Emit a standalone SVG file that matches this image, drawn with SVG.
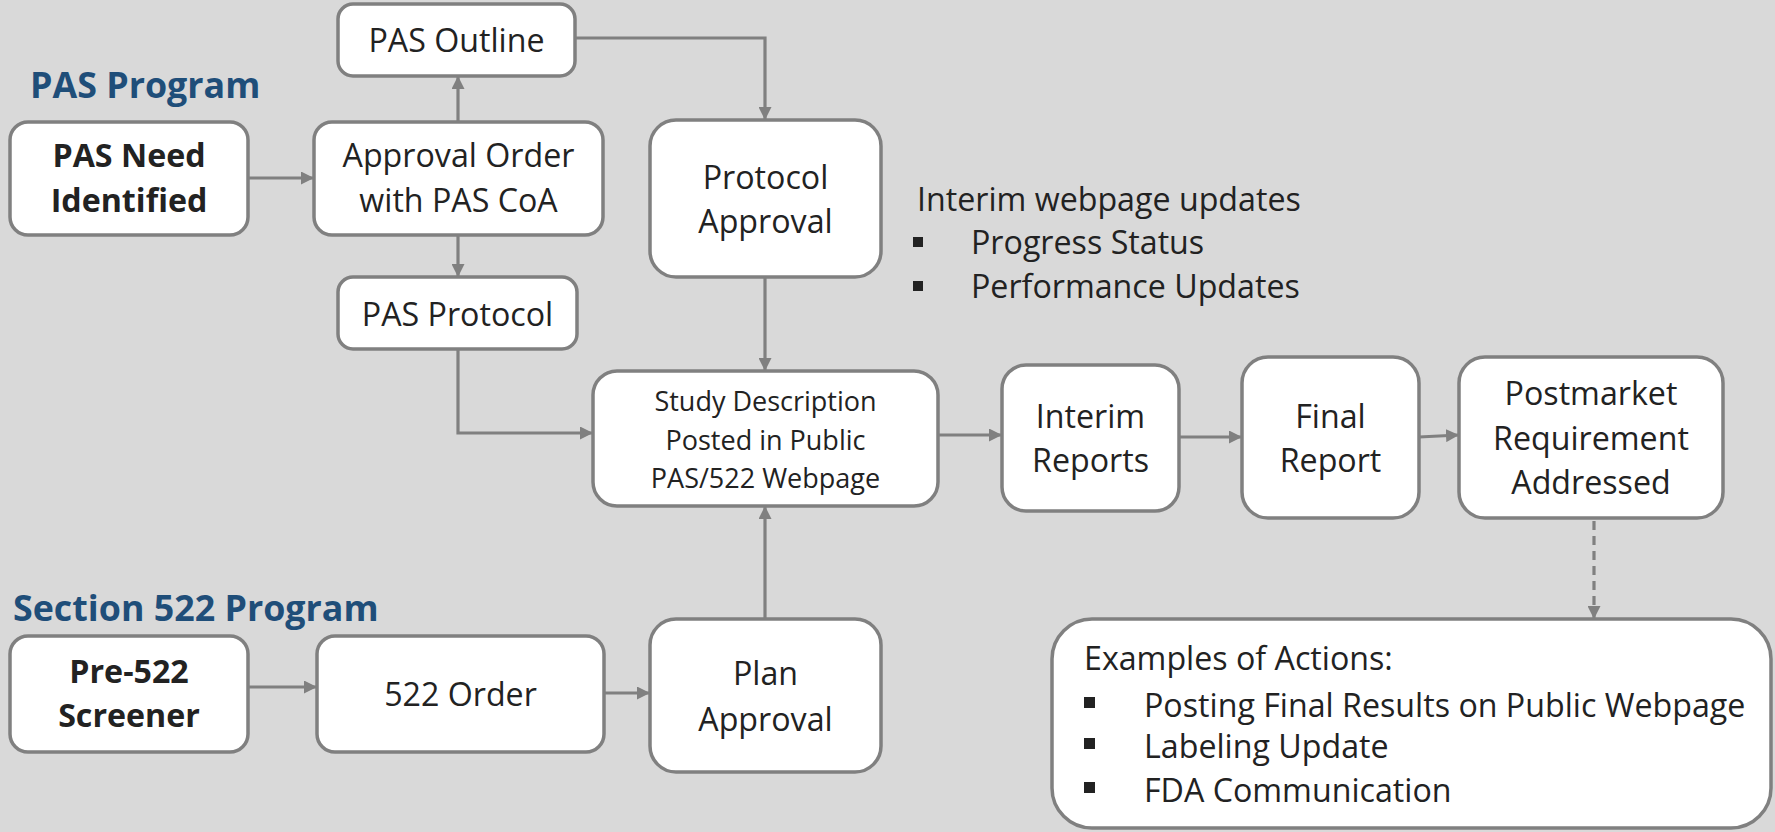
<svg xmlns="http://www.w3.org/2000/svg" width="1775" height="832" viewBox="0 0 1775 832">
<defs>
<marker id="ah" viewBox="0 0 10 10" markerUnits="userSpaceOnUse" markerWidth="13" markerHeight="13" refX="10" refY="5" orient="auto"><path d="M0,0 L10,5 L0,10 z" fill="#808080"/></marker>
<style>
.box{fill:#fff;stroke:#808080;stroke-width:3.5}
.t{font-family:"Open Sans","Noto Sans",sans-serif;font-size:32.2px;fill:#222;text-anchor:middle}
.b{font-weight:bold}
.s{font-size:27px}
.l{text-anchor:start}
.title{font-family:"Open Sans","Noto Sans",sans-serif;font-size:35.8px;font-weight:bold;fill:#1F4E79}
.c{fill:none;stroke:#808080;stroke-width:3.2;marker-end:url(#ah)}
.d{stroke-dasharray:9 6}
.blt{fill:#222}
</style>
</defs>
<rect x="0" y="0" width="1775" height="832" fill="#D9D9D9"/>
<text class="title" x="30" y="98">PAS Program</text>
<text class="title" x="13" y="621">Section 522 Program</text>
<g id="connectors">
<path class="c" d="M248,178 H314"/>
<path class="c" d="M458,122 V76"/>
<path class="c" d="M458,235 V277"/>
<path class="c" d="M575,38 H765 V120"/>
<path class="c" d="M765,277 V371"/>
<path class="c" d="M458,349 V433 H593"/>
<path class="c" d="M765,619 V506"/>
<path class="c" d="M938,435 H1002"/>
<path class="c" d="M1179,437 H1242"/>
<path class="c" d="M1419,437 L1459,435"/>
<path class="c d" d="M1594,521 V619"/>
<path class="c" d="M248,687 H317"/>
<path class="c" d="M604,693 H650"/>
</g>
<g id="pas-outline"><rect class="box" x="338" y="4" width="237" height="72" rx="15"/><text class="t" x="456.5" y="52">PAS Outline</text></g>
<g id="pas-need"><rect class="box" x="10" y="122" width="238" height="113" rx="18"/><text class="t b" x="129" y="167">PAS Need</text><text class="t b" x="129" y="212">Identified</text></g>
<g id="approval-order"><rect class="box" x="314" y="122" width="289" height="113" rx="18"/><text class="t" x="458.5" y="167">Approval Order</text><text class="t" x="458.5" y="212">with PAS CoA</text></g>
<g id="pas-protocol"><rect class="box" x="338" y="277" width="239" height="72" rx="15"/><text class="t" x="457.5" y="326">PAS Protocol</text></g>
<g id="protocol-approval"><rect class="box" x="650" y="120" width="231" height="157" rx="26"/><text class="t" x="765.5" y="189">Protocol</text><text class="t" x="765.5" y="233">Approval</text></g>
<g id="interim-updates">
<text class="t l" x="917" y="211">Interim webpage updates</text>
<rect class="blt" x="913" y="237" width="10" height="10"/><text class="t l" x="971" y="254">Progress Status</text>
<rect class="blt" x="913" y="281" width="10" height="10"/><text class="t l" x="971" y="298">Performance Updates</text>
</g>
<g id="study-description"><rect class="box" x="593" y="371" width="345" height="135" rx="24"/><text class="t s" x="765.5" y="411">Study Description</text><text class="t s" x="765.5" y="450">Posted in Public</text><text class="t s" x="765.5" y="488">PAS/522 Webpage</text></g>
<g id="interim-reports"><rect class="box" x="1002" y="365" width="177" height="146" rx="24"/><text class="t" x="1090.5" y="428">Interim</text><text class="t" x="1090.5" y="472">Reports</text></g>
<g id="final-report"><rect class="box" x="1242" y="357" width="177" height="161" rx="26"/><text class="t" x="1330.5" y="428">Final</text><text class="t" x="1330.5" y="472">Report</text></g>
<g id="postmarket"><rect class="box" x="1459" y="357" width="264" height="161" rx="26"/><text class="t" x="1591" y="405">Postmarket</text><text class="t" x="1591" y="450">Requirement</text><text class="t" x="1591" y="494">Addressed</text></g>
<g id="pre-522"><rect class="box" x="10" y="636" width="238" height="116" rx="18"/><text class="t b" x="129" y="683">Pre-522</text><text class="t b" x="129" y="727">Screener</text></g>
<g id="order-522"><rect class="box" x="317" y="636" width="287" height="116" rx="18"/><text class="t" x="460.5" y="706">522 Order</text></g>
<g id="plan-approval"><rect class="box" x="650" y="619" width="231" height="153" rx="26"/><text class="t" x="765.5" y="685">Plan</text><text class="t" x="765.5" y="731">Approval</text></g>
<g id="examples">
<rect class="box" x="1052" y="619" width="719" height="209" rx="40"/>
<text class="t l" x="1084" y="670">Examples of Actions:</text>
<rect class="blt" x="1084" y="697" width="11" height="11"/><text class="t l" x="1144" y="717">Posting Final Results on Public Webpage</text>
<rect class="blt" x="1084" y="738" width="11" height="11"/><text class="t l" x="1144" y="758">Labeling Update</text>
<rect class="blt" x="1084" y="782" width="11" height="11"/><text class="t l" x="1144" y="802">FDA Communication</text>
</g>
</svg>
